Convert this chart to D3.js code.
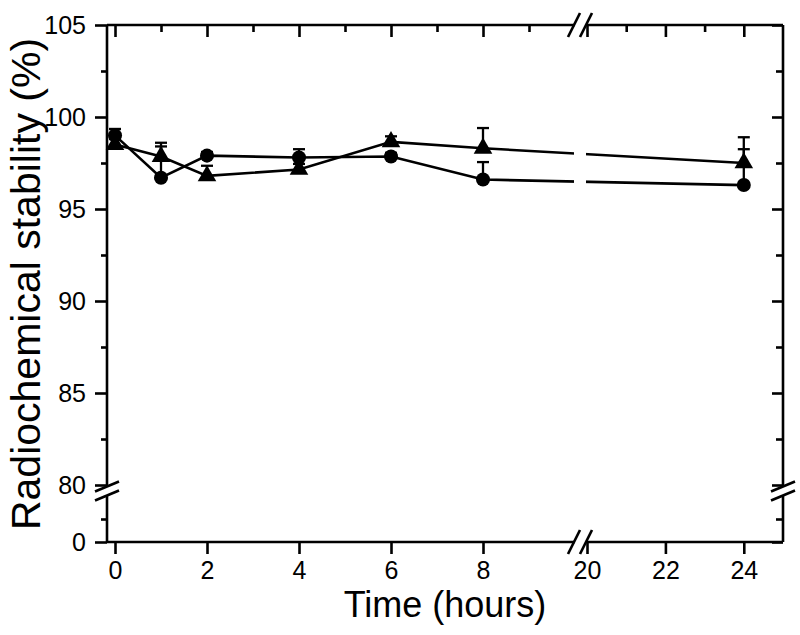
<!DOCTYPE html>
<html>
<head>
<meta charset="utf-8">
<script src="https://cdn.jsdelivr.net/npm/d3@7"></script>
<style>
  html, body { margin: 0; padding: 0; background: #fff; }
  svg { display: block; }
  text { font-family: "Liberation Sans", Arial, sans-serif; fill: #000; }
</style>
</head>
<body>
<svg id="chart" width="800" height="635"></svg>
<script>
// ---- data ----
const timeHours = [0, 1, 2, 4, 6, 8, 24];
const circleValues = [99.0, 96.7, 97.9, 97.8, 97.85, 96.6, 96.3];
const circleErrors = [0.35, 1.7, 0.2, 0.45, 0.2, 0.95, 1.95];
const triangleValues = [98.5, 97.85, 96.8, 97.15, 98.65, 98.3, 97.5];
const triangleErrors = [0.3, 0.75, 0.55, 0.3, 0.3, 1.1, 1.4];

const xMajorTicks = [0, 2, 4, 6, 8, 20, 22, 24];
const xMinorTicks = [1, 3, 5, 7, 9, 21, 23];
const yMajorTicks = [0, 80, 85, 90, 95, 100, 105];
const yMinorTicks = [2.5, 82.5, 87.5, 92.5, 97.5, 102.5];
const xBreak = [10, 20];
const yBreak = [5, 80];

const xTitle = "Time (hours)";
const yTitle = "Radiochemical stability (%)";

// ---- layout ----
const pL = 107, pR = 783, pT = 25, pB = 542;
const svg = d3.select("#chart");

// piecewise (broken) scales
const x = d3.scaleLinear()
  .domain([-0.174, xBreak[0], xBreak[1], 25])
  .range([pL, 575, 587, pR]);
const y = d3.scaleLinear()
  .domain([0, yBreak[0], yBreak[1], 105])
  .range([pB, 496, 485, pT]);

const defs = svg.append("defs");
const clip = defs.append("clipPath").attr("id", "plotclip");
clip.append("rect").attr("x", pL - 20).attr("y", 0).attr("width", x(xBreak[0]) - 1 - (pL - 20)).attr("height", 635);
clip.append("rect").attr("x", x(xBreak[1]) - 1).attr("y", 0).attr("width", 800 - x(xBreak[1])).attr("height", 635);

const sw = 2.6;

// ---- axes lines (with gaps) ----
const axisG = svg.append("g").attr("stroke", "#000").attr("stroke-width", sw).attr("fill", "none");
[pL, pR].forEach(xx => {
  axisG.append("line").attr("x1", xx).attr("x2", xx).attr("y1", pT).attr("y2", y(yBreak[1]));
  axisG.append("line").attr("x1", xx).attr("x2", xx).attr("y1", y(yBreak[0])).attr("y2", pB);
});
[pT, pB].forEach(yy => {
  axisG.append("line").attr("x1", pL).attr("x2", x(xBreak[0])).attr("y1", yy).attr("y2", yy);
  axisG.append("line").attr("x1", x(xBreak[1])).attr("x2", pR).attr("y1", yy).attr("y2", yy);
});

// ---- ticks via d3 axes ----
function styleAxis(g) {
  g.select(".domain").remove();
  g.selectAll(".tick line").attr("stroke", "#000").attr("stroke-width", sw);
}
const tickFont = 25;
svg.append("g").attr("transform", `translate(${pL},0)`)
  .call(d3.axisLeft(y).tickValues(yMajorTicks).tickSize(12).tickPadding(9).tickFormat(d3.format("d")))
  .call(styleAxis)
  .call(g => g.selectAll(".tick text").attr("font-size", tickFont).attr("font-family", "Liberation Sans, Arial, sans-serif").attr("fill", "#000"));
svg.append("g").attr("transform", `translate(${pL},0)`)
  .call(d3.axisLeft(y).tickValues(yMinorTicks).tickSize(6).tickFormat(""))
  .call(styleAxis);
svg.append("g").attr("transform", `translate(${pR},0)`)
  .call(d3.axisLeft(y).tickValues(yMajorTicks).tickSize(11).tickFormat(""))
  .call(styleAxis);
svg.append("g").attr("transform", `translate(${pR},0)`)
  .call(d3.axisLeft(y).tickValues(yMinorTicks).tickSize(7).tickFormat(""))
  .call(styleAxis);
svg.append("g").attr("transform", `translate(0,${pB})`)
  .call(d3.axisBottom(x).tickValues(xMajorTicks).tickSize(12).tickPadding(7).tickFormat(d3.format("d")))
  .call(styleAxis)
  .call(g => g.selectAll(".tick text").attr("font-size", tickFont).attr("font-family", "Liberation Sans, Arial, sans-serif").attr("fill", "#000"));
svg.append("g").attr("transform", `translate(0,${pT})`)
  .call(d3.axisBottom(x).tickValues(xMajorTicks).tickSize(12).tickFormat(""))
  .call(styleAxis);
svg.append("g").attr("transform", `translate(0,${pT})`)
  .call(d3.axisBottom(x).tickValues(xMinorTicks).tickSize(7).tickFormat(""))
  .call(styleAxis);

// ---- break marks ----
const brk = svg.append("g").attr("stroke", "#000").attr("stroke-width", sw).attr("fill", "none");
[pL, pR].forEach(xx => {
  yBreak.forEach(v => {
    const cy = y(v) + (v === yBreak[1] ? 1.5 : -0.5);
    brk.append("line").attr("x1", xx - 12).attr("y1", cy + 5).attr("x2", xx + 12).attr("y2", cy - 5);
  });
});
[pT, pB].forEach(yy => {
  xBreak.forEach(v => {
    const cx = x(v) - 1;
    brk.append("line").attr("x1", cx - 6).attr("y1", yy + 12).attr("x2", cx + 6).attr("y2", yy - 12);
  });
});

// ---- data series ----
const plot = svg.append("g").attr("clip-path", "url(#plotclip)");
const series = [
  { vals: circleValues, errs: circleErrors, symbol: d3.symbolCircle, size: 155 },
  { vals: triangleValues, errs: triangleErrors, symbol: d3.symbolTriangle, size: 150 }
];
const lineGen = d3.line().x(d => x(d[0])).y(d => y(d[1]));
series.forEach(s => {
  const pts = timeHours.map((t, i) => [t, s.vals[i], s.errs[i]]);
  plot.append("path").datum(pts).attr("d", lineGen)
    .attr("fill", "none").attr("stroke", "#000").attr("stroke-width", sw);
});
series.forEach(s => {
  const pts = timeHours.map((t, i) => [t, s.vals[i], s.errs[i]]);
  const eb = svg.append("g").attr("stroke", "#000").attr("stroke-width", 2.3);
  pts.forEach(p => {
    eb.append("line").attr("x1", x(p[0])).attr("x2", x(p[0])).attr("y1", y(p[1])).attr("y2", y(p[1] + p[2]));
    eb.append("line").attr("x1", x(p[0]) - 6).attr("x2", x(p[0]) + 6).attr("y1", y(p[1] + p[2])).attr("y2", y(p[1] + p[2]));
  });
  svg.append("g").selectAll("path").data(pts).join("path")
    .attr("transform", d => `translate(${x(d[0])},${y(d[1])})`)
    .attr("d", d3.symbol().type(s.symbol).size(s.size))
    .attr("fill", "#000");
});

// ---- titles ----
svg.append("text").attr("x", 445).attr("y", 617).attr("text-anchor", "middle")
  .attr("font-size", 36).text(xTitle);
svg.append("text").attr("transform", "translate(40,284) rotate(-90)").attr("text-anchor", "middle")
  .attr("font-size", 41).text(yTitle);
</script>
</body>
</html>
